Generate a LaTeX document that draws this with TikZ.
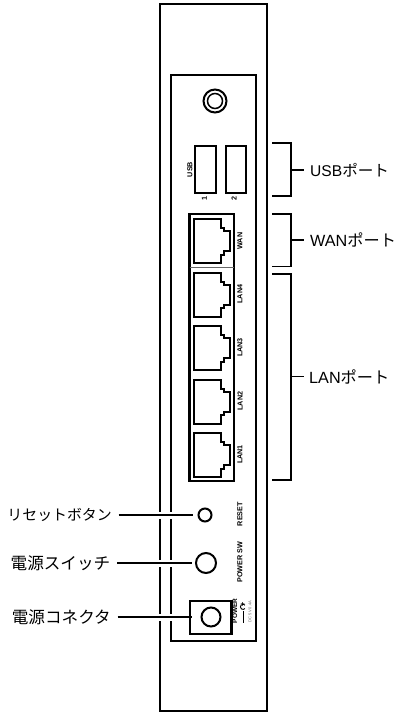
\documentclass[tikz,border=0pt]{standalone}
\usepackage{fontspec}
\setmainfont{Liberation Sans}
\newfontfamily\jpfont{Noto Sans CJK JP}
\usetikzlibrary{positioning, calc}

\begin{document}
\begin{tikzpicture}[
        x=1pt,
        y=-1pt,
        panel/.style={draw=black, line width=2pt},
        frontline/.style={draw=black, line width=2pt},
        thinline/.style={draw=black!60, line width=0.7pt},
        leader/.style={draw=black, line width=1.8pt},
        halo/.style={draw=white, line width=7pt, shorten <=40pt, shorten >=16pt},
        button/.style={circle, draw=black, line width=2pt, inner sep=0pt, fill=white},
        silk/.style={font=\bfseries\fontsize{7.2}{7.2}\selectfont, rotate=90, inner sep=0pt},
        portlabel/.style={font=\fontsize{16.6}{16.6}\selectfont, inner sep=0pt},
        rjport/.pic={\draw[frontline] (0,0) -- (26.5,0) -- (26.5,9) -- (30,9) -- (30,12.3) -- (36,12.3) -- (36,32.3) -- (30,32.3) -- (30,35.7) -- (26.5,35.7) -- (26.5,44) -- (0,44) -- cycle;}
    ]
        \useasboundingbox (0,0) rectangle (400,713);

        % Housing
        \draw[panel] (160,4) rectangle (267,711);
        \draw[panel] (171,75) rectangle (256,641);

        % Antenna socket
        \node[button, minimum size=23pt] (Antenna) at (215,101) {};
        \node[button, minimum size=15pt, line width=1.5pt, right=0pt of Antenna.center, anchor=center] (AntennaCore) {};

        % USB
        \draw[frontline] (195,146) rectangle (215.5,192.5);
        \draw[frontline] (225.5,146) rectangle (246,192.5);
        \node[silk] (UsbText) at (190,169.5) {USB};
        \node[silk] (UsbOne) at (204.5,198) {1};
        \node[silk] (UsbTwo) at (234,198) {2};

        % Ports
        \draw[panel, line width=2.2pt] (189.5,214) rectangle (234,481);
        \draw[thinline] (189.5,267) -- (234,267);
        \pic at (194,219) {rjport};
        \pic at (194,272.5) {rjport};
        \pic at (194,326) {rjport};
        \pic at (194,379.5) {rjport};
        \pic at (194,433) {rjport};
        \node[silk] (WanText) at (240,241) {WAN};
        \node[silk] (LanFour) at (240,294) {LAN4};
        \node[silk] (LanThree) at (240,347.5) {LAN3};
        \node[silk] (LanTwo) at (240,401) {LAN2};
        \node[silk] (LanOne) at (240,454.5) {LAN1};

        % Buttons
        \node[button, minimum size=13pt] (Reset) at (205,515) {};
        \node[button, minimum size=20pt] (PowerSw) at (206,563) {};
        \draw[panel, line width=2.4pt] (190,601) rectangle (231.5,634);
        \node[button, minimum size=19pt] (Jack) at (211,617) {};
        \node[silk] (ResetText) at (240,514) {RESET};
        \node[silk] (PowerSwText) at (240,562) {POWER SW};
        \node[silk, font=\bfseries\fontsize{6.5}{6.5}\selectfont] (PowerText) at (235,611) {POWER};

        % DC symbol
        \node[silk] (PlusMark) at (243,604) {+};
        \draw[line width=0.9pt] (245,608.5) arc (40:320:2.6);
        \draw[line width=0.9pt] (243,611) -- (243,623);
        \node[silk, font=\fontsize{4}{4}\selectfont, text=black!60] (DcText) at (250,611.5) {DC 5V 0.4A};

        % Left labels
        \node[portlabel, left=85.5pt of Reset, font=\fontsize{14.9}{14.9}\selectfont] (ResetLabel) {\jpfont リセットボタン};
        \node[portlabel, left=84.5pt of PowerSw] (SwitchLabel) {\jpfont 電源スイッチ};
        \node[portlabel, left=89.5pt of Jack] (JackLabel) {\jpfont 電源コネクタ};

        % Leaders
        \draw[halo] (ResetLabel) -- (Reset);
        \draw[halo] (SwitchLabel) -- (PowerSw);
        \draw[halo] (JackLabel) -- (Jack);
        \draw[leader, shorten <=6.5pt, shorten >=5pt] (ResetLabel) -- (Reset);
        \draw[leader, shorten <=6.5pt, shorten >=3pt] (SwitchLabel) -- (PowerSw);
        \draw[leader, shorten <=6.5pt, shorten >=9pt] (JackLabel) -- (Jack);

        % Right labels
        \node[portlabel, anchor=west, font=\fontsize{15.6}{15.6}\selectfont] (UsbLabel) at (310,170) {USB{\jpfont ポート}};
        \node[portlabel, anchor=west, font=\fontsize{16.2}{16.2}\selectfont] (WanLabel) at (310,240) {WAN{\jpfont ポート}};
        \node[portlabel, anchor=west, font=\fontsize{16.2}{16.2}\selectfont] (LanLabel) at (309,376.5) {LAN{\jpfont ポート}};

        % Brackets
        \coordinate (UsbMid) at (291,170);
        \coordinate (WanMid) at (291,240);
        \coordinate (LanMid) at (291,376.5);
        \draw[leader] (272,143) -| (UsbMid) |- (272,196);
        \draw[leader] (272,214) -| (WanMid) |- (272,266.5);
        \draw[leader] (272,274) -| (LanMid) |- (272,480);
        \draw[leader, shorten >=6pt] (UsbMid) -- (UsbLabel);
        \draw[leader, shorten >=6pt] (WanMid) -- (WanLabel);
        \draw[leader, shorten >=5pt] (LanMid) -- (LanLabel);
    \end{tikzpicture}
\end{document}
